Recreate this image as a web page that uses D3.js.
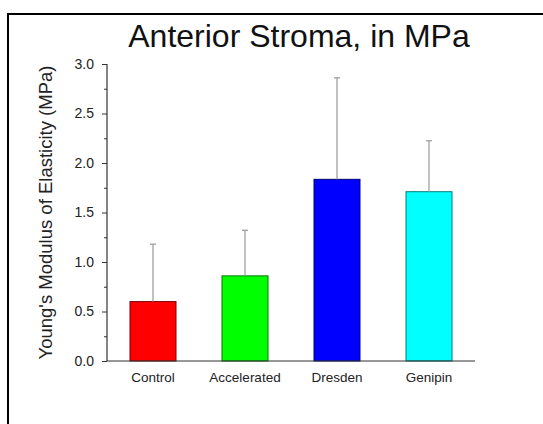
<!DOCTYPE html>
<html>
<head>
<meta charset="utf-8">
<script src="https://cdn.jsdelivr.net/npm/d3@7"></script>
<style>
  html, body { margin: 0; padding: 0; background: #fff; }
  svg { display: block; }
</style>
</head>
<body>
<script>
// Young's modulus of the anterior stroma, per treatment group
const categories = ["Control", "Accelerated", "Dresden", "Genipin"];
const means = [0.60, 0.86, 1.835, 1.71];
const errTops = [1.18, 1.32, 2.86, 2.225];
const fills = ["#ff0000", "#00ff00", "#0000ff", "#00ffff"];
const strokes = ["#7a0000", "#007a00", "#00007a", "#007a7a"];
const yTicks = [0.0, 0.5, 1.0, 1.5, 2.0, 2.5, 3.0];
const yMinorTicks = [0.25, 0.75, 1.25, 1.75, 2.25, 2.75];

const W = 543, H = 424;
const FONT = "Liberation Sans, Arial, sans-serif";
const svg = d3.select("body").append("svg").attr("width", W).attr("height", H);

// frame around the figure (right and bottom edges run off the canvas)
svg.append("rect")
  .attr("x", 8).attr("y", 14)
  .attr("width", 560).attr("height", 440)
  .attr("fill", "none").attr("stroke", "#000").attr("stroke-width", 2);

const plot = { left: 107, right: 475, top: 64, bottom: 361 };

const x = d3.scaleBand()
  .domain(categories)
  .range([plot.left, plot.right])
  .paddingInner(0.5)
  .paddingOuter(0.25);

const y = d3.scaleLinear().domain([0, 3]).range([plot.bottom, plot.top]);

// bars
svg.append("g").selectAll("rect")
  .data(categories)
  .join("rect")
  .attr("x", d => x(d))
  .attr("y", (d, i) => y(means[i]))
  .attr("width", x.bandwidth())
  .attr("height", (d, i) => y(0) - y(means[i]))
  .attr("fill", (d, i) => fills[i])
  .attr("stroke", (d, i) => strokes[i])
  .attr("stroke-width", 1);

// upper error bars
const eb = svg.append("g").attr("stroke", "#a0a0a0").attr("stroke-width", 1.3);
categories.forEach((c, i) => {
  const cx = x(c) + x.bandwidth() / 2;
  eb.append("line").attr("x1", cx).attr("x2", cx)
    .attr("y1", y(means[i])).attr("y2", y(errTops[i]));
  eb.append("line").attr("x1", cx - 3).attr("x2", cx + 3)
    .attr("y1", y(errTops[i])).attr("y2", y(errTops[i]));
});

// y axis
const yAxis = svg.append("g")
  .attr("transform", `translate(${plot.left},0)`)
  .call(d3.axisLeft(y).tickValues(yTicks).tickFormat(d3.format(".1f")).tickSize(5).tickPadding(8));
yAxis.selectAll(".tick line").attr("stroke", "#333");
yAxis.select(".domain").attr("stroke", "#333").attr("stroke-width", 1.2).attr("d", `M0,${plot.bottom}V${plot.top}`);
yAxis.selectAll("text").attr("font-family", FONT).attr("font-size", 14).attr("fill", "#222");

svg.append("g")
  .attr("transform", `translate(${plot.left},0)`)
  .call(d3.axisLeft(y).tickValues(yMinorTicks).tickFormat("").tickSize(3))
  .call(g => g.select(".domain").remove())
  .selectAll("line").attr("stroke", "#333");

// x axis
const xAxis = svg.append("g")
  .attr("transform", `translate(0,${plot.bottom})`)
  .call(d3.axisBottom(x).tickSize(0).tickPadding(11));
xAxis.select(".domain").attr("stroke", "#333").attr("stroke-width", 1.2).attr("d", `M${plot.left},0H${plot.right}`);
xAxis.selectAll("text").attr("font-family", FONT).attr("font-size", 13.5).attr("fill", "#222");

// y axis title
svg.append("text")
  .attr("transform", `translate(52,${(plot.top + plot.bottom) / 2}) rotate(-90)`)
  .attr("text-anchor", "middle")
  .attr("font-family", FONT)
  .attr("font-size", 18.5).attr("fill", "#222")
  .text("Young's Modulus of Elasticity (MPa)");

// chart title
svg.append("text")
  .attr("x", 299).attr("y", 47)
  .attr("text-anchor", "middle")
  .attr("font-family", FONT)
  .attr("font-size", 32).attr("fill", "#111")
  .text("Anterior Stroma, in MPa");
</script>
</body>
</html>
